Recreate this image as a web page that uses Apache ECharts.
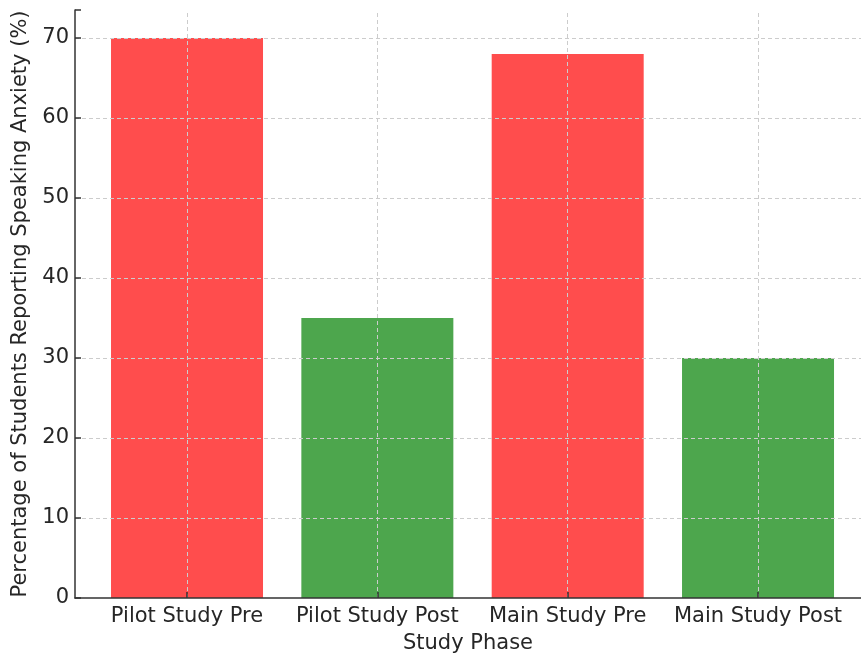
<!DOCTYPE html>
<html>
<head>
<meta charset="utf-8">
<script src="https://cdn.jsdelivr.net/npm/echarts@6/dist/echarts.min.js"></script>
<style>html,body{margin:0;padding:0;background:#fff;}#c{width:861px;height:659px;}</style>
</head>
<body>
<div id="c"></div>
<script>
const categories = ["Pilot Study Pre", "Pilot Study Post", "Main Study Pre", "Main Study Post"];
const values = [70, 35, 68, 30];
const barColors = ["#FF4D4D", "#4DA64D", "#FF4D4D", "#4DA64D"];
const yTicks = [0, 10, 20, 30, 40, 50, 60, 70];

const positions = categories.map((c, i) => i);
const chart = echarts.init(document.getElementById('c'));
const font = 'DejaVu Sans';
const gridStyle = {color: '#cccccc', type: [4, 3], width: 1};
chart.setOption({
  animation: false,
  grid: {left: 75, top: 10, right: 0, bottom: 57, containLabel: false},
  xAxis: {
    type: 'value', min: -0.5885, max: 3.541, z: 10,
    name: 'Study Phase', nameLocation: 'middle', nameGap: 35,
    nameTextStyle: {fontFamily: font, fontSize: 21, color: '#262626'},
    axisLine: {show: true, onZero: false, lineStyle: {color: '#333', width: 1.5}},
    axisTick: {show: true, inside: true, length: 6, customValues: positions, lineStyle: {color: '#333', width: 1.5}},
    axisLabel: {customValues: positions, margin: 8, fontFamily: font, fontSize: 21, color: '#262626',
      formatter: v => categories[Math.round(v)]},
    splitLine: {show: false}
  },
  yAxis: {
    type: 'value', min: 0, max: 73.5, interval: 10, z: 10,
    name: 'Percentage of Students Reporting Speaking Anxiety (%)', nameLocation: 'middle', nameGap: 44, nameRotate: 90,
    nameTextStyle: {fontFamily: font, fontSize: 21, color: '#262626'},
    axisLine: {show: true, onZero: false, lineStyle: {color: '#333', width: 1.5}},
    axisTick: {show: true, inside: true, length: 6, lineStyle: {color: '#333', width: 1.5}},
    axisLabel: {margin: 6, fontFamily: font, fontSize: 21, color: '#262626',
      formatter: v => (yTicks.indexOf(v) >= 0 ? String(v) : '')},
    splitLine: {show: false}
  },
  series: [{
    type: 'bar',
    barWidth: 152,
    data: values.map((v, i) => ({value: [positions[i], v], itemStyle: {color: barColors[i]}})),
    markLine: {
      silent: true, symbol: 'none', label: {show: false},
      lineStyle: gridStyle,
      data: positions.map(p => ({xAxis: p})).concat(yTicks.filter(t => t > 0).map(t => ({yAxis: t})))
    }
  }]
});
</script>
</body>
</html>
